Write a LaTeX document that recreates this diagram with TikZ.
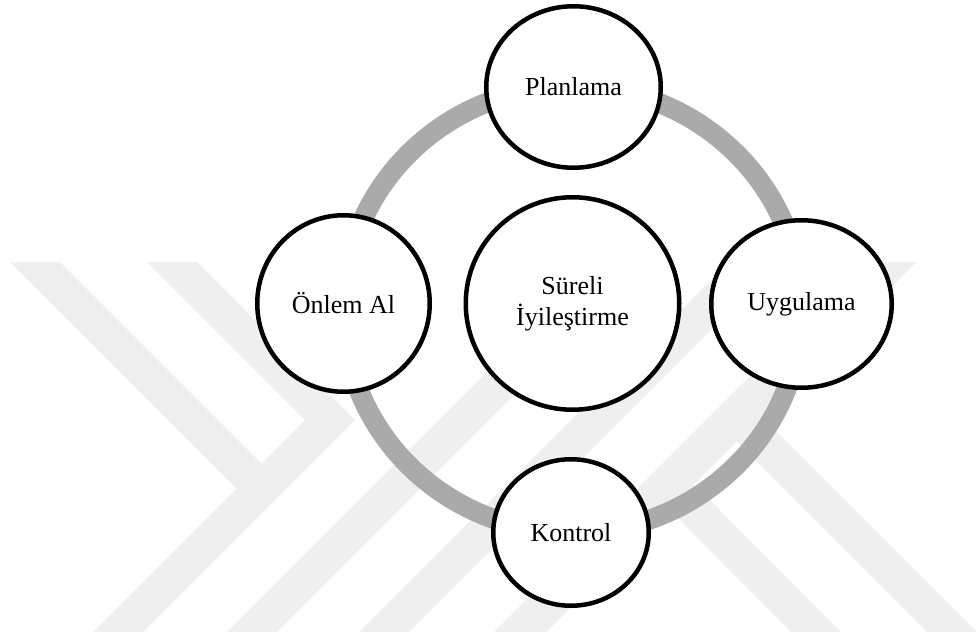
\documentclass[tikz,border=0pt]{standalone}
\usepackage{fontspec}
\setmainfont{Liberation Serif}
\usetikzlibrary{shapes.geometric}
\definecolor{wm}{RGB}{239,239,239}
\definecolor{ringgray}{RGB}{170,170,170}
\begin{document}
\begin{tikzpicture}[x=1pt,y=-1pt,
  bub/.style={ellipse, draw=black, line width=4.5pt, fill=white, inner sep=0pt,
    font=\fontsize{26}{31}\selectfont, align=center},
  wmark/.style={fill=wm, draw=none},
  ringline/.style={draw=ringgray, line width=20pt}]
\useasboundingbox (0,0) rectangle (978,637);
% watermark bands
\fill[wmark] (147,262) -- (305,420) -- (93,632) -- (143,632) -- (355,420) -- (197,262) -- cycle;
\fill[wmark] (10,262) -- (60,262) -- (261.5,463.5) -- (236.5,488.5) -- cycle;
\fill[wmark] (227,632) -- (277,632) -- (647,262) -- (597,262) -- cycle;
\fill[wmark] (359,632) -- (409,632) -- (779,262) -- (729,262) -- cycle;
\fill[wmark] (494,632) -- (546,632) -- (916,262) -- (864,262) -- cycle;
\fill[wmark] (655,495) -- (680,470) -- (841,632) -- (791,632) -- cycle;
\fill[wmark] (722,427) -- (747,402) -- (977,632) -- (927,632) -- cycle;
% ring
\coordinate (ringc) at (572.5,309.5);
\draw[ringline] (ringc) ellipse [x radius=229, y radius=223];
% nodes
\node[bub, minimum width=174.5pt, minimum height=161.5pt] (plan) at (573.5,87) {Planlama};
\node[bub, minimum width=172.5pt, minimum height=176.5pt] (onlem) at (343.5,303.5) {Önlem Al};
\node[bub, minimum width=213.5pt, minimum height=212.5pt] (center) at (572.5,303.5) {Süreli\\İyileştirme};
\node[bub, minimum width=180.5pt, minimum height=167.5pt] (uyg) at (801.5,304) {Uygulama};
\node[bub, minimum width=155.5pt, minimum height=146.5pt] (kontrol) at (571,532.5) {Kontrol};
\end{tikzpicture}
\end{document}
